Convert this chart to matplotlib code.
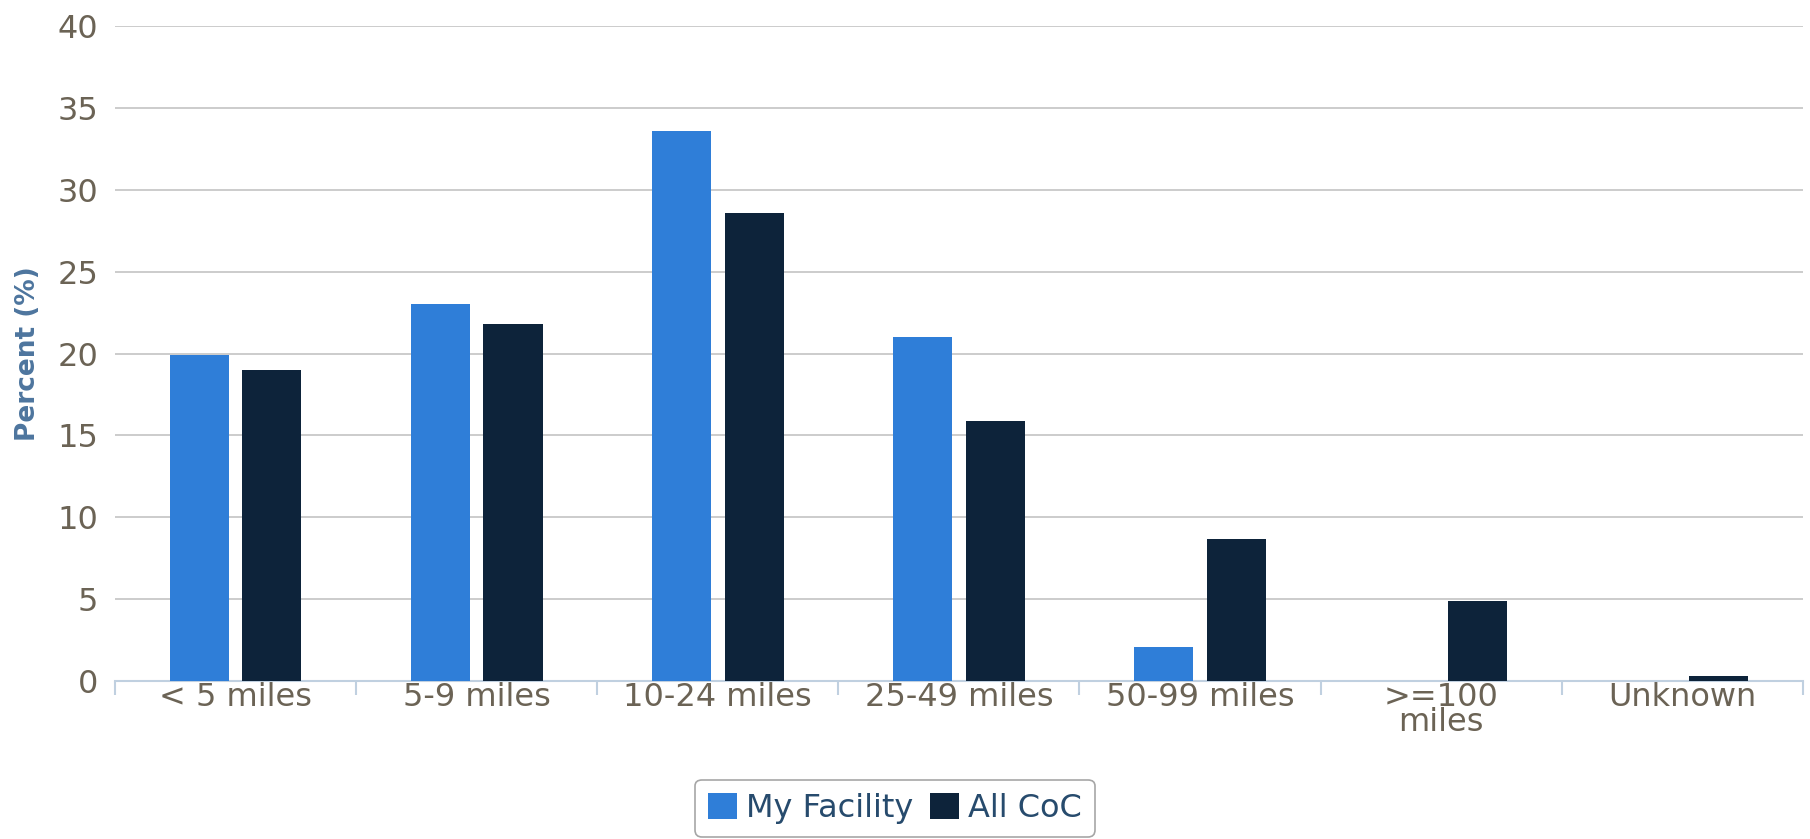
import matplotlib.pyplot as plt
import numpy as np
from matplotlib.patches import Patch

categories = ['< 5 miles', '5-9 miles', '10-24 miles', '25-49 miles',
              '50-99 miles', '>=100\nmiles', 'Unknown']
my_facility = [19.9, 23.0, 33.6, 21.0, 2.1, 0.0, 0.0]
all_coc = [19.0, 21.8, 28.6, 15.9, 8.7, 4.9, 0.3]
series_names = ['My Facility', 'All CoC']
series_colors = ['#2F7ED8', '#0D233A']

fig = plt.figure(figsize=(18.1, 8.39), dpi=100)
ax = fig.add_axes([0.0635, 0.1883, 0.9325, 0.7807])

x = np.arange(len(categories))
w = 0.245
ax.bar(x - 0.151, my_facility, w, color=series_colors[0], zorder=3)
ax.bar(x + 0.151, all_coc, w, color=series_colors[1], zorder=3)

ax.set_xlim(-0.5, len(categories) - 0.5)
ax.set_ylim(0, 40)
ax.set_yticks(range(0, 41, 5))
ax.grid(axis='y', color='#C8C8C8', linewidth=1.3, zorder=0)

for s in ['top', 'right', 'left']:
    ax.spines[s].set_visible(False)
ax.spines['bottom'].set_color('#C0D0E0')
ax.spines['bottom'].set_linewidth(1.5)

ax.set_xticks(x)
ax.set_xticklabels(categories, linespacing=0.72)
ax.set_xticks(np.arange(-0.5, len(categories), 1.0), minor=True)
ax.tick_params(axis='x', which='major', length=0, pad=1, labelsize=23, labelcolor='#6b6355')
ax.tick_params(axis='x', which='minor', length=10, color='#C0D0E0', width=1.5)
ax.tick_params(axis='y', length=0, labelsize=23, labelcolor='#6b6355')
ax.yaxis.set_tick_params(pad=12)

ax.set_ylabel('Percent (%)', fontsize=19, fontweight='bold', color='#4D759E', labelpad=12)

handles = [Patch(facecolor=c, label=n) for c, n in zip(series_colors, series_names)]
leg = fig.legend(handles=handles, loc='center', bbox_to_anchor=(0.4945, 0.0365), ncol=2,
                 fontsize=23, frameon=True, handlelength=0.9, handleheight=0.9,
                 handletextpad=0.3, columnspacing=0.5, borderpad=0.4, fancybox=True)
leg.get_frame().set_edgecolor('#909090')
leg.get_frame().set_linewidth(1.2)
for t in leg.get_texts():
    t.set_color('#274B6D')

fig.savefig('out.png', dpi=100)
